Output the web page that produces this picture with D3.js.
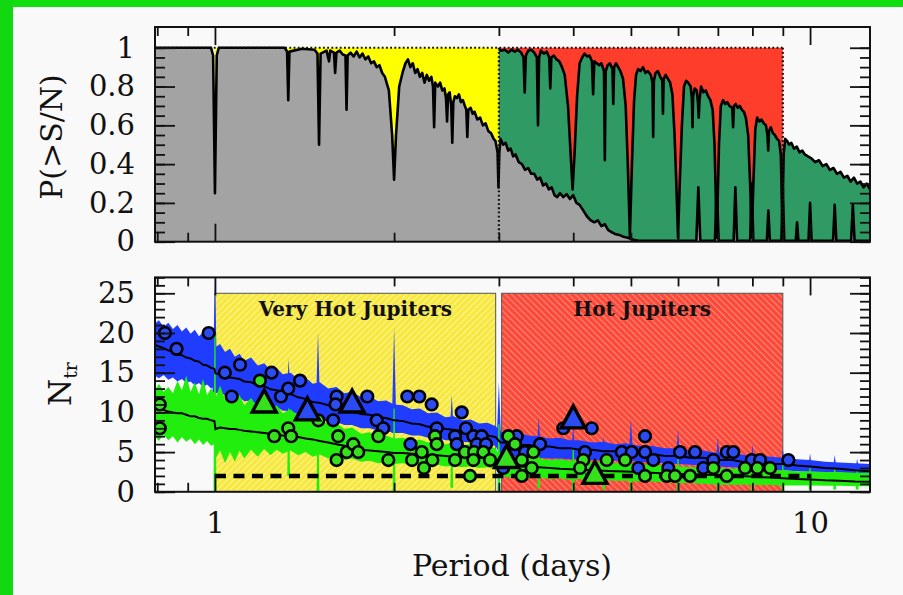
<!DOCTYPE html>
<html lang="en">
<head>
<meta charset="UTF-8">
<title>Transit probability and number of transits vs period</title>
<style>
  body { margin: 0; background: #f9f9f9; }
  svg { display: block; font-family: "DejaVu Serif", serif; }
  .tick line { stroke: #111; stroke-width: 1.8; }
  .tick text { fill: #111; font-size: 29px; }
</style>
</head>
<body>
<svg id="chart" width="903" height="595"></svg>
<script src="https://d3js.org/d3.v7.min.js"></script>
<script>
// ---- tick labels ----
const periodMajor = [1, 10];
const periodMinor = [0.8, 0.9, 2, 3, 4, 5, 6, 7, 8, 9];
const probMajor = [0, 0.2, 0.4, 0.6, 0.8, 1];
const ntrMajor = [0, 5, 10, 15, 20, 25];

// ---- top panel: P(>S/N) curves [period, probability] ----
const curveA = [
  [0.793,1.0],[0.985,1.0],[0.993,0.96],[1.0,0.25],[1.007,0.96],[1.015,1.0],
  [1.31,1.0],[1.322,0.98],[1.328,0.73],[1.334,0.98],[1.40,0.995],[1.47,0.99],
  [1.487,0.97],[1.496,0.50],[1.505,0.97],[1.54,0.985],[1.555,0.93],[1.562,0.985],
  [1.585,0.975],[1.592,0.87],[1.60,0.975],[1.62,0.985],[1.64,0.965],[1.657,0.96],
  [1.664,0.68],[1.671,0.96],[1.69,0.975],[1.71,0.955],[1.73,0.98],[1.75,0.95],
  [1.77,0.97],[1.79,0.94],[1.81,0.955],[1.83,0.92],[1.85,0.93],[1.87,0.90],
  [1.89,0.91],[1.91,0.87],[1.93,0.85],[1.96,0.78],[1.985,0.55],[2.0,0.32],
  [2.015,0.55],[2.04,0.80],[2.07,0.88],[2.09,0.92],[2.11,0.94],[2.13,0.90],
  [2.15,0.92],[2.17,0.87],[2.19,0.89],[2.21,0.85],[2.23,0.87],[2.25,0.82],
  [2.27,0.86],[2.29,0.83],[2.31,0.85],[2.325,0.80],[2.335,0.59],[2.345,0.82],
  [2.37,0.80],[2.39,0.82],[2.41,0.78],[2.43,0.79],[2.445,0.74],[2.455,0.62],
  [2.465,0.76],[2.48,0.77],[2.495,0.70],[2.505,0.51],[2.515,0.72],[2.53,0.75],
  [2.55,0.74],[2.57,0.76],[2.59,0.72],[2.61,0.73],[2.63,0.70],[2.645,0.68],
  [2.655,0.54],[2.665,0.68],[2.69,0.69],[2.71,0.66],[2.73,0.67],[2.76,0.63],
  [2.79,0.64],[2.82,0.60],[2.85,0.61],[2.88,0.57],[2.91,0.56],[2.94,0.53],
  [2.96,0.52],[2.985,0.46],[2.995,0.28],[3.005,0.46],[3.02,0.53],[3.05,0.50],
  [3.08,0.51],[3.11,0.47],[3.14,0.48],[3.17,0.44],[3.20,0.45],[3.24,0.41],
  [3.28,0.40],[3.32,0.37],[3.36,0.38],[3.40,0.35],[3.44,0.35],[3.48,0.32],
  [3.52,0.33],[3.56,0.29],[3.60,0.30],[3.64,0.27],[3.68,0.28],[3.72,0.24],
  [3.76,0.23],[3.80,0.25],[3.85,0.23],[3.90,0.245],[3.95,0.22],[4.00,0.24],
  [4.05,0.20],[4.10,0.19],[4.16,0.16],[4.22,0.13],[4.28,0.11],[4.34,0.10],
  [4.40,0.11],[4.46,0.08],[4.52,0.09],[4.58,0.06],[4.64,0.05],[4.70,0.04],
  [4.78,0.035],[4.86,0.025],[4.94,0.02],[5.05,0.01],[5.15,0.005],[6.44,0.005],
  [6.49,0.28],[6.54,0.005],[6.92,0.005],[6.97,0.30],[7.02,0.005],[7.44,0.005],
  [7.49,0.28],[7.54,0.005],[7.93,0.005],[7.98,0.30],[8.03,0.005],[8.46,0.005],
  [8.51,0.16],[8.56,0.005],[8.95,0.005],[9.0,0.28],[9.05,0.005],[9.46,0.005],
  [9.51,0.10],[9.56,0.005],[9.94,0.005],[10.0,0.20],[10.06,0.005],[10.93,0.005],
  [11.0,0.19],[11.07,0.005],[11.72,0.005],[11.8,0.19],[11.88,0.005],[12.61,0.005]
];

const curveB = [
  [3.0,0.99],[3.03,0.985],[3.07,0.99],[3.11,0.975],[3.15,0.99],[3.19,0.98],
  [3.23,0.99],[3.27,0.975],[3.30,0.95],[3.315,0.77],[3.33,0.96],[3.36,0.985],
  [3.40,0.99],[3.44,0.975],[3.475,0.95],[3.49,0.60],[3.505,0.95],[3.53,0.985],
  [3.57,0.97],[3.61,0.98],[3.645,0.95],[3.66,0.79],[3.675,0.95],[3.71,0.96],
  [3.75,0.94],[3.79,0.93],[3.83,0.90],[3.87,0.86],[3.92,0.70],[3.96,0.45],
  [3.99,0.27],[4.02,0.45],[4.06,0.75],[4.10,0.92],[4.14,0.95],[4.18,0.97],
  [4.22,0.955],[4.26,0.96],[4.30,0.93],[4.32,0.76],[4.34,0.93],[4.38,0.92],
  [4.42,0.91],[4.46,0.92],[4.505,0.88],[4.52,0.42],[4.535,0.88],[4.57,0.91],
  [4.61,0.92],[4.655,0.89],[4.67,0.71],[4.685,0.90],[4.72,0.92],[4.76,0.90],
  [4.80,0.88],[4.85,0.84],[4.90,0.70],[4.94,0.40],[4.98,0.03],[5.02,0.40],
  [5.06,0.72],[5.10,0.86],[5.14,0.89],[5.19,0.88],[5.24,0.90],[5.29,0.87],
  [5.34,0.88],[5.40,0.86],[5.435,0.82],[5.45,0.54],[5.465,0.83],[5.50,0.87],
  [5.55,0.88],[5.60,0.85],[5.645,0.83],[5.66,0.66],[5.675,0.84],[5.72,0.86],
  [5.77,0.84],[5.82,0.82],[5.87,0.76],[5.92,0.55],[5.96,0.30],[6.0,0.02],
  [6.04,0.30],[6.09,0.60],[6.14,0.80],[6.19,0.83],[6.24,0.82],[6.30,0.80],
  [6.33,0.74],[6.345,0.59],[6.36,0.75],[6.40,0.79],[6.45,0.78],[6.48,0.72],
  [6.50,0.64],[6.52,0.73],[6.56,0.80],[6.62,0.77],[6.68,0.78],[6.74,0.75],
  [6.80,0.73],[6.86,0.68],[6.91,0.50],[6.97,0.02],[7.03,0.50],[7.08,0.70],
  [7.14,0.73],[7.20,0.71],[7.26,0.72],[7.32,0.70],[7.40,0.69],[7.425,0.59],
  [7.45,0.70],[7.50,0.71],[7.56,0.69],[7.62,0.70],[7.68,0.68],[7.74,0.67],
  [7.80,0.64],[7.87,0.55],[7.93,0.30],[7.98,0.02],[8.03,0.30],[8.09,0.58],
  [8.15,0.64],[8.22,0.62],[8.29,0.63],[8.36,0.61],[8.43,0.60],[8.48,0.55],
  [8.505,0.47],[8.53,0.57],[8.59,0.59],[8.66,0.56],[8.73,0.55],[8.80,0.53],
  [8.87,0.52],[8.93,0.45],[8.98,0.10],[9.03,0.45],[9.08,0.53],[9.15,0.52],
  [9.22,0.50],[9.30,0.51],[9.40,0.48],[9.50,0.49],[9.60,0.46],[9.70,0.47],
  [9.80,0.45],[9.92,0.44],[10.05,0.43],[10.2,0.41],[10.35,0.42],[10.5,0.39],
  [10.65,0.40],[10.8,0.37],[10.95,0.38],[11.1,0.35],[11.25,0.36],[11.4,0.33],
  [11.55,0.34],[11.7,0.31],[11.85,0.33],[12.0,0.30],[12.15,0.31],[12.3,0.28],
  [12.45,0.30],[12.61,0.27]
];

// period ranges of the shaded classes
const veryHotRange = [1, 3];
const hotRange = [3, 9];
const veryHotBox = [1, 2.963];
const hotBox = [3.032, 9.0];
const boxTop = 25;

// ---- bottom panel: N_tr bands ----
const bandPeriods = [
  0.793, 0.805, 0.82, 0.835, 0.85,
  0.865, 0.88, 0.895, 0.91, 0.925,
  0.94, 0.955, 0.97, 0.985, 0.998,
  1.002, 1.02, 1.04, 1.06, 1.08,
  1.10, 1.12, 1.15, 1.18, 1.21,
  1.24, 1.27, 1.30, 1.34, 1.38,
  1.42, 1.46, 1.50, 1.55, 1.60,
  1.65, 1.70, 1.76, 1.82, 1.88,
  1.94, 2.00, 2.07, 2.14, 2.21,
  2.28, 2.36, 2.44, 2.52, 2.60,
  2.69, 2.78, 2.87, 2.96, 3.02,
  3.12, 3.24, 3.36, 3.5, 3.65,
  3.8, 3.95, 4.1, 4.3, 4.5,
  4.7, 4.9, 5.15, 5.4, 5.7,
  6.0, 6.3, 6.6, 7.0, 7.4,
  7.8, 8.2, 8.6, 9.0, 9.5,
  10.0, 10.6, 11.2, 11.9, 12.61
];
const blueMid = [
  18.5, 18.3, 18.1, 17.8, 17.7,
  17.3, 17.2, 16.9, 16.8, 16.5,
  16.4, 16.0, 15.9, 15.6, 15.5,
  14.9, 14.8, 14.7, 14.4, 14.3,
  14.2, 13.9, 13.8, 13.4, 13.3,
  12.9, 12.8, 12.5, 12.3, 11.9,
  11.7, 11.3, 11.2, 10.9, 10.7,
  10.3, 10.1, 9.8, 9.7, 9.4,
  9.3, 9.0, 8.9, 8.6, 8.5,
  8.2, 8.2, 7.9, 7.8, 7.6,
  7.5, 7.2, 7.1, 6.9, 6.2,
  6.2, 5.9, 5.9, 5.7, 5.7,
  5.5, 5.5, 5.3, 5.3, 5.1,
  5.1, 5.0, 4.9, 4.8, 4.5,
  4.5, 4.3, 4.3, 4.0, 4.0,
  3.7, 3.7, 3.5, 3.5, 3.3,
  3.2, 3.0, 2.9, 2.7, 2.6
];
const blueHigh = [
  21.2, 21.6, 20.8, 21.3, 20.5,
  21.0, 20.2, 20.7, 19.9, 20.4,
  19.6, 20.1, 19.3, 19.8, 19.2,
  18.2, 18.6, 17.6, 18.0, 17.0,
  17.4, 16.5, 16.9, 15.9, 16.2,
  15.3, 15.6, 14.8, 15.0, 14.2,
  14.4, 13.6, 13.8, 13.0, 13.2,
  12.4, 12.6, 11.9, 12.0, 11.4,
  11.5, 11.0, 10.9, 10.4, 10.5,
  9.9, 10.0, 9.4, 9.5, 9.0,
  9.1, 8.6, 8.7, 8.3, 7.6,
  7.3, 7.4, 7.1, 7.0, 6.7,
  6.8, 6.5, 6.5, 6.2, 6.3,
  6.0, 6.1, 5.8, 5.8, 5.5,
  5.5, 5.2, 5.2, 4.9, 4.9,
  4.6, 4.6, 4.4, 4.3, 4.1,
  4.0, 3.8, 3.7, 3.6, 3.5
];
const blueLow = [
  14.6, 14.3, 14.7, 14.1, 14.4,
  13.9, 14.2, 13.7, 13.9, 13.4,
  13.7, 13.2, 13.5, 13.0, 13.2,
  12.4, 12.6, 12.1, 12.3, 11.7,
  11.9, 11.4, 11.5, 10.9, 11.1,
  10.6, 10.7, 10.2, 10.2, 9.7,
  9.7, 9.2, 9.2, 8.8, 8.8,
  8.4, 8.4, 8.0, 8.0, 7.7,
  7.7, 7.4, 7.4, 7.1, 7.1,
  6.8, 6.8, 6.5, 6.5, 6.3,
  6.2, 6.0, 5.9, 5.8, 4.6,
  4.5, 4.4, 4.3, 4.3, 4.2,
  4.2, 4.1, 4.1, 4.0, 4.0,
  3.9, 3.9, 3.8, 3.7, 3.6,
  3.5, 3.4, 3.3, 3.2, 3.1,
  3.0, 2.9, 2.8, 2.7, 2.6,
  2.5, 2.4, 2.4, 2.3, 2.2
];
const greenMid = [
  10.4, 10.3, 10.3, 10.1, 10.0,
  9.9, 9.9, 9.7, 9.5, 9.5,
  9.3, 9.2, 9.2, 9.0, 8.9,
  7.9, 8.1, 8.0, 7.9, 7.9,
  7.8, 7.7, 7.6, 7.5, 7.4,
  7.3, 7.2, 7.1, 7.0, 6.9,
  6.7, 6.6, 6.4, 6.2, 6.0,
  5.8, 5.6, 5.3, 5.2, 5.1,
  5.0, 4.9, 4.9, 4.8, 4.7,
  4.6, 4.6, 4.5, 4.4, 4.4,
  4.3, 4.3, 4.2, 4.1, 3.4,
  3.3, 3.2, 3.15, 3.1, 3.0,
  2.9, 2.85, 2.8, 2.7, 2.65,
  2.6, 2.55, 2.5, 2.4, 2.3,
  2.25, 2.2, 2.15, 2.1, 2.0,
  1.95, 1.85, 1.8, 1.7, 1.6,
  1.55, 1.45, 1.4, 1.3, 1.25
];
const greenHigh = [
  12.8, 13.6, 12.6, 13.2, 12.4,
  14.0, 12.8, 14.6, 12.6, 13.8,
  12.3, 14.2, 12.2, 13.0, 12.4,
  11.8, 13.4, 11.6, 12.8, 11.2,
  12.2, 10.9, 11.8, 10.6, 11.3,
  10.2, 10.9, 9.9, 10.4, 9.5,
  9.8, 8.9, 9.2, 8.5, 8.7,
  7.9, 8.1, 7.3, 7.5, 6.9,
  7.1, 6.7, 6.8, 6.4, 6.6,
  6.2, 6.4, 6.0, 6.2, 5.9,
  6.0, 5.7, 5.8, 5.5, 4.5,
  4.3, 4.4, 4.2, 4.2, 4.0,
  4.1, 3.9, 3.9, 3.8, 3.8,
  3.6, 3.6, 3.5, 3.4, 3.3,
  3.2, 3.1, 3.1, 3.0, 2.9,
  2.9, 2.8, 2.7, 2.7, 2.6,
  2.6, 2.5, 2.5, 2.4, 2.4
];
const greenLow = [
  7.0, 6.4, 7.2, 6.5, 7.0,
  6.2, 6.9, 6.3, 6.7, 6.0,
  6.6, 5.9, 6.4, 5.8, 6.0,
  4.2, 5.2, 3.6, 5.0, 3.8,
  5.2, 4.2, 5.3, 4.4, 5.4,
  4.6, 5.3, 4.8, 5.2, 4.6,
  5.0, 4.4, 4.7, 4.2, 4.5,
  4.0, 4.2, 3.8, 3.9, 3.6,
  3.7, 3.5, 3.6, 3.4, 3.5,
  3.3, 3.4, 3.2, 3.3, 3.1,
  3.2, 3.0, 3.1, 2.9, 2.0,
  1.8, 1.9, 1.7, 1.8, 1.6,
  1.7, 1.5, 1.6, 1.5, 1.5,
  1.4, 1.4, 1.3, 1.3, 1.2,
  1.1, 1.1, 1.0, 0.9, 0.9,
  0.9, 0.85, 0.85, 0.8, 0.8,
  0.8, 0.75, 0.75, 0.7, 0.7
];

// narrow alias spikes [period, from, to]
const blueSpikes = [
  [1.0,12.5,27],[1.33,10.2,16.8],[1.49,9.2,20.1],[2.0,7.4,20.7],[2.5,6.5,12.2],
  [3.0,5.8,13.8],[3.5,4.3,9.4],[4.0,4.1,8.3],[4.5,4.0,7.0],[5.0,3.9,9.2],
  [6.0,3.5,7.8],[7.0,3.2,6.8],[8.0,2.9,6.0],[9.0,2.7,5.5],[10.0,2.5,4.8],
  [11.0,2.4,4.6],[12.0,2.3,4.2]
];
const greenSpikes = [
  [1.0,0,19.7],[1.33,2.0,10.5],[1.49,0,9.0],[2.0,0,10.5],[2.5,0.5,6.5],
  [3.0,0,8.5],[3.5,0.4,5.0],[4.0,0,5.5],[4.5,0.3,4.2],[5.0,0,4.6],
  [6.0,0,4.2],[7.0,0,3.8],[8.0,0,3.6],[9.0,0,3.4],[10.0,0.3,3.0],
  [11.0,0.3,2.9],[12.0,0.3,2.8]
];

// detected planets [period, N_tr]
const blueCircles = [
  [0.824,20],[0.862,18],[0.976,20],[1.039,15],[1.102,16],[1.067,12],[1.245,15],
  [1.291,12],[1.328,13],[1.390,14],[1.580,9],[1.601,12],[1.595,11],[1.803,12],
  [1.870,9],[1.918,8],[2.105,12],[2.205,12],[2.313,11],[2.131,6],[2.359,8],
  [2.598,10],[2.641,8],[2.532,7],[2.549,6],[2.718,7],[2.807,7],[2.754,6],
  [2.854,6],[3.051,3],[3.215,7],[3.319,5],[3.518,6],[3.849,8],[4.296,8],
  [4.186,5],[4.826,5],[5.015,5],[5.280,7],[5.280,5],[5.453,4],[5.145,3],
  [5.778,3],[6.046,5],[6.408,5],[6.878,4],[6.617,3],[7.244,5],[7.432,5],
  [7.980,4],[8.241,4],[9.195,4]
];
const greenCircles = [
  [0.808,11],[0.808,8],[1.190,14],[1.258,7],[1.328,8],[1.343,7],[1.492,9],
  [1.601,4],[1.611,7],[1.665,5],[1.708,6],[1.741,5],[1.882,7],[1.956,4],
  [2.144,4],[2.226,5],[2.245,3],[2.319,4],[2.343,7],[2.359,6],[2.532,4],
  [2.630,5],[2.725,5],[2.718,4],[2.825,5],[2.899,4],[2.683,2],[3.111,7],
  [3.193,6],[3.278,4],[3.406,3],[3.278,2],[3.428,5],[4.159,4],[4.107,3],
  [4.553,4],[4.888,4],[5.280,2],[5.743,2],[5.930,2],[6.285,2],[6.878,3],
  [7.244,2],[7.777,3],[8.155,3],[8.566,3]
];
const blueTriangles = [[1.43,10],[1.70,11],[4.0,9]];
const greenTriangles = [[1.21,11],[3.09,4],[4.35,2]];

const minTransits = 2;
const minTransitsRange = [1, 10];

// ---- layout ----
const svg = d3.select("#chart");
const L = 155, R = 870;
const top1 = 27, bot1 = 241.7;
const top2 = 277.4, bot2 = 491.8;

const x = d3.scaleLog().domain([0.793, 12.61]).range([L, R]);
const yP = d3.scaleLinear().domain([0, 1.107]).range([bot1, top1]);
const yN = d3.scaleLinear().domain([0, 27]).range([bot2, top2]);

svg.append("rect").attr("width", 903).attr("height", 595).attr("fill", "#f9f9f9");
svg.append("rect").attr("width", 903).attr("height", 7).attr("fill", "#0fdf0f");
svg.append("rect").attr("width", 13).attr("height", 595).attr("fill", "#12d812");

const defs = svg.append("defs");
defs.append("clipPath").attr("id", "clipTop").append("rect")
  .attr("x", L).attr("y", top1).attr("width", R - L).attr("height", bot1 - top1);
defs.append("clipPath").attr("id", "clipBot").append("rect")
  .attr("x", L).attr("y", top2).attr("width", R - L).attr("height", bot2 - top2);

function hatch(id, base, stripe, angle) {
  const p = defs.append("pattern").attr("id", id)
    .attr("patternUnits", "userSpaceOnUse").attr("width", 4.5).attr("height", 4.5)
    .attr("patternTransform", `rotate(${angle})`);
  p.append("rect").attr("width", 4.5).attr("height", 4.5).attr("fill", base);
  p.append("line").attr("x1", 0.6).attr("y1", 0).attr("x2", 0.6).attr("y2", 4.5)
    .attr("stroke", stripe).attr("stroke-width", 1.1);
}
hatch("hatchYellow", "#f7e83a", "#fcf4a2", 45);
hatch("hatchRed", "#fb4838", "#fd8d7d", -45);

// ================= top panel =================
const gTop = svg.append("g").attr("clip-path", "url(#clipTop)");

gTop.append("rect")
  .attr("x", x(veryHotRange[0])).attr("width", x(veryHotRange[1]) - x(veryHotRange[0]))
  .attr("y", yP(1)).attr("height", yP(0) - yP(1)).attr("fill", "#ffff00");
gTop.append("rect")
  .attr("x", x(hotRange[0])).attr("width", x(hotRange[1]) - x(hotRange[0]))
  .attr("y", yP(1)).attr("height", yP(0) - yP(1)).attr("fill", "#ff3d2b");

const areaP = d3.area().x(d => x(d[0])).y0(yP(0)).y1(d => yP(d[1]));
const lineP = d3.line().x(d => x(d[0])).y(d => yP(d[1]));

gTop.append("path").datum(curveB).attr("d", areaP).attr("fill", "#2f9a63");
gTop.append("path").datum(curveA).attr("d", areaP).attr("fill", "#a3a3a3");
gTop.append("path").datum(curveB).attr("d", lineP)
  .attr("fill", "none").attr("stroke", "#000").attr("stroke-width", 2.6).attr("stroke-linejoin", "round");
gTop.append("path").datum(curveA).attr("d", lineP)
  .attr("fill", "none").attr("stroke", "#000").attr("stroke-width", 2.6).attr("stroke-linejoin", "round");

// dotted outlines of the classes
const dotted = d3.line().x(d => x(d[0])).y(d => yP(d[1]));
[[[0.793, 1], [hotRange[1], 1]],
 [[veryHotRange[1], 1], [veryHotRange[1], 0]],
 [[hotRange[1], 1], [hotRange[1], 0]]].forEach(seg => {
  gTop.append("path").attr("d", dotted(seg)).attr("fill", "none")
    .attr("stroke", "#111").attr("stroke-width", 2.2).attr("stroke-dasharray", "1.8,2.4");
});

// ================= bottom panel =================
const gBot = svg.append("g").attr("clip-path", "url(#clipBot)");

gBot.append("rect")
  .attr("x", x(veryHotBox[0])).attr("width", x(veryHotBox[1]) - x(veryHotBox[0]))
  .attr("y", yN(boxTop)).attr("height", yN(0) - yN(boxTop))
  .attr("fill", "url(#hatchYellow)").attr("stroke", "#555").attr("stroke-width", 1);
gBot.append("rect")
  .attr("x", x(hotBox[0])).attr("width", x(hotBox[1]) - x(hotBox[0]))
  .attr("y", yN(boxTop)).attr("height", yN(0) - yN(boxTop))
  .attr("fill", "url(#hatchRed)").attr("stroke", "#555").attr("stroke-width", 1);

const band = (lo, hi) => d3.area()
  .x((d, i) => x(bandPeriods[i]))
  .y0((d, i) => yN(lo[i]))
  .y1((d, i) => yN(hi[i]));
const mid = arr => d3.line().x((d, i) => x(bandPeriods[i])).y((d, i) => yN(arr[i]));

const blueCol = "#1f3cff", greenCol = "#22ee0e";

gBot.append("path").datum(bandPeriods).attr("d", band(blueLow, blueHigh)).attr("fill", blueCol);
gBot.selectAll(".bspike").data(blueSpikes).join("path").attr("class", "bspike")
  .attr("d", d => `M${x(d[0]) - 2.4},${yN(d[1])}L${x(d[0])},${yN(d[2])}L${x(d[0]) + 2.4},${yN(d[1])}Z`)
  .attr("fill", blueCol);

gBot.append("path").datum(bandPeriods).attr("d", band(greenLow, greenHigh)).attr("fill", greenCol);
gBot.selectAll(".gspike").data(greenSpikes).join("path").attr("class", "gspike")
  .attr("d", d => `M${x(d[0]) - 1.4},${yN(d[1])}L${x(d[0]) - 0.6},${yN(d[2])}L${x(d[0]) + 0.6},${yN(d[2])}L${x(d[0]) + 1.4},${yN(d[1])}Z`)
  .attr("fill", greenCol);

gBot.append("path").datum(bandPeriods).attr("d", mid(blueMid))
  .attr("fill", "none").attr("stroke", "#000").attr("stroke-width", 2);
gBot.append("path").datum(bandPeriods).attr("d", mid(greenMid))
  .attr("fill", "none").attr("stroke", "#000").attr("stroke-width", 2);

gBot.append("line")
  .attr("x1", x(minTransitsRange[0])).attr("x2", x(minTransitsRange[1]))
  .attr("y1", yN(minTransits)).attr("y2", yN(minTransits))
  .attr("stroke", "#000").attr("stroke-width", 4.5).attr("stroke-dasharray", "11,7.5");

gBot.selectAll(".bc").data(blueCircles).join("circle").attr("class", "bc")
  .attr("cx", d => x(d[0])).attr("cy", d => yN(d[1])).attr("r", 5.8)
  .attr("fill", "#2b4cf2").attr("stroke", "#000").attr("stroke-width", 2.6);
gBot.selectAll(".gc").data(greenCircles).join("circle").attr("class", "gc")
  .attr("cx", d => x(d[0])).attr("cy", d => yN(d[1])).attr("r", 5.8)
  .attr("fill", "#36e01c").attr("stroke", "#000").attr("stroke-width", 2.6);

const tri = "M0,-14.5L12,7.5L-12,7.5Z";
gBot.selectAll(".bt").data(blueTriangles).join("path").attr("class", "bt")
  .attr("transform", d => `translate(${x(d[0])},${yN(d[1])})`).attr("d", tri)
  .attr("fill", "#2b4cf2").attr("stroke", "#000").attr("stroke-width", 3.4).attr("stroke-linejoin", "miter");
gBot.selectAll(".gt").data(greenTriangles).join("path").attr("class", "gt")
  .attr("transform", d => `translate(${x(d[0])},${yN(d[1])})`).attr("d", tri)
  .attr("fill", "#36e01c").attr("stroke", "#000").attr("stroke-width", 3.4).attr("stroke-linejoin", "miter");

const logMid = r => Math.sqrt(r[0] * r[1]);
svg.append("text").attr("x", x(logMid(veryHotBox))).attr("y", 315.5)
  .attr("text-anchor", "middle").attr("font-weight", "bold").attr("font-size", 20)
  .attr("fill", "#111").text("Very Hot Jupiters");
svg.append("text").attr("x", x(logMid(hotBox))).attr("y", 315.5)
  .attr("text-anchor", "middle").attr("font-weight", "bold").attr("font-size", 20)
  .attr("fill", "#111").text("Hot Jupiters");

// ================= frames and axes =================
function frame(y0, y1, yScale, major, minor, showX, fmt) {
  svg.append("rect").attr("x", L).attr("y", y0).attr("width", R - L).attr("height", y1 - y0)
    .attr("fill", "none").attr("stroke", "#111").attr("stroke-width", 2);
  const clean = g => g.select(".domain").remove();
  // x ticks, inside, bottom and top
  svg.append("g").attr("transform", `translate(0,${y1})`)
    .call(d3.axisBottom(x).tickValues(periodMinor).tickSize(-9).tickFormat("")).call(clean);
  svg.append("g").attr("transform", `translate(0,${y0})`)
    .call(d3.axisTop(x).tickValues(periodMinor).tickSize(-9).tickFormat("")).call(clean);
  svg.append("g").attr("transform", `translate(0,${y0})`)
    .call(d3.axisTop(x).tickValues(periodMajor).tickSize(-18).tickFormat("")).call(clean);
  svg.append("g").attr("transform", `translate(0,${y1})`)
    .call(d3.axisBottom(x).tickValues(periodMajor).tickSize(-18).tickPadding(21)
      .tickFormat(showX ? d3.format("d") : "")).call(clean);
  // y ticks, inside, left and right
  svg.append("g").attr("transform", `translate(${L},0)`)
    .call(d3.axisLeft(yScale).tickValues(minor).tickSize(-10).tickFormat("")).call(clean);
  svg.append("g").attr("transform", `translate(${R},0)`)
    .call(d3.axisRight(yScale).tickValues(minor).tickSize(-10).tickFormat("")).call(clean);
  svg.append("g").attr("transform", `translate(${L},0)`)
    .call(d3.axisLeft(yScale).tickValues(major).tickSize(-20).tickPadding(20).tickFormat(fmt)).call(clean);
  svg.append("g").attr("transform", `translate(${R},0)`)
    .call(d3.axisRight(yScale).tickValues(major).tickSize(-20).tickFormat("")).call(clean);
}

frame(top1, bot1, yP, probMajor, d3.range(0, 1.001, 0.05), false,
  d => (d === 0 || d === 1) ? String(d) : d.toFixed(1));
frame(top2, bot2, yN, ntrMajor, d3.range(0, 27.01, 1), true, d3.format("d"));

svg.selectAll(".tick text").attr("font-family", "DejaVu Serif").attr("font-size", 29);

// axis titles
svg.append("text").attr("transform", "translate(62,137) rotate(-90)")
  .attr("text-anchor", "middle").attr("font-size", 30).attr("fill", "#111")
  .text("P(>S/N)");
const nt = svg.append("text").attr("transform", "translate(71,384) rotate(-90)")
  .attr("text-anchor", "middle").attr("font-size", 31).attr("fill", "#111");
nt.append("tspan").text("N");
nt.append("tspan").attr("font-size", 19).attr("dy", 6).text("tr");
svg.append("text").attr("x", 512).attr("y", 576)
  .attr("text-anchor", "middle").attr("font-size", 30).attr("fill", "#111")
  .text("Period (days)");
</script>
</body>
</html>
